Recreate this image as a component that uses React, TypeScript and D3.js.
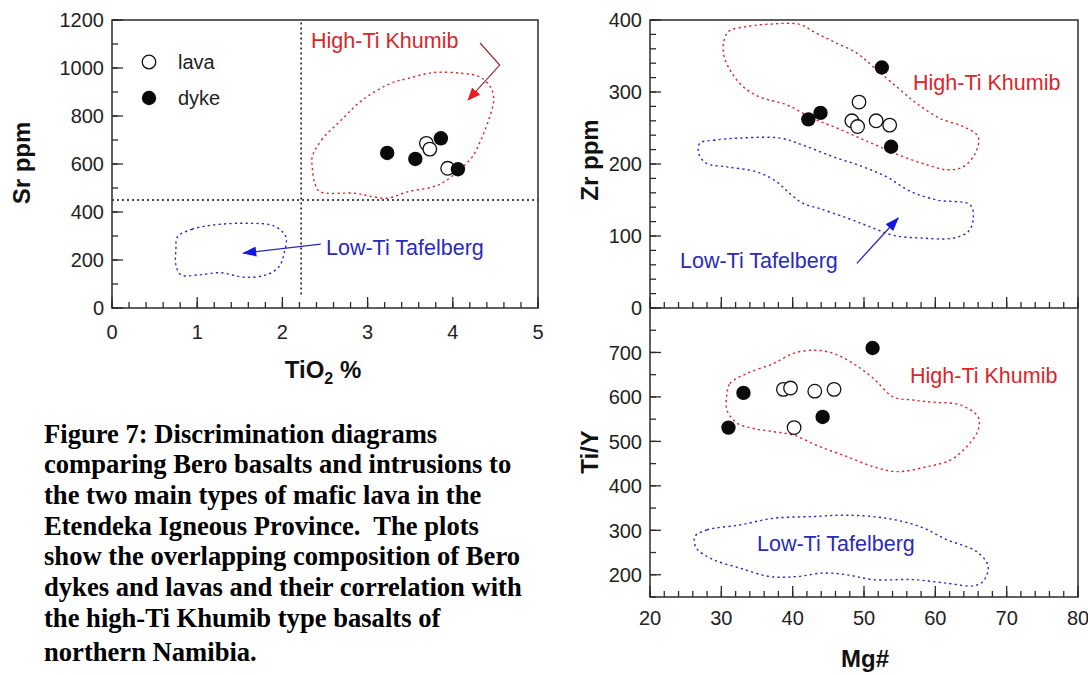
import * as d3 from "d3";

// tick labels
const tiO2Ticks = [0, 1, 2, 3, 4, 5];
const srTicks = [0, 200, 400, 600, 800, 1000, 1200];
const mgTicks = [20, 30, 40, 50, 60, 70, 80];
const zrTicks = [0, 100, 200, 300, 400];
const tiyTicks = [200, 300, 400, 500, 600, 700];

type Pt = [number, number];

// Sr ppm vs TiO2 %
const srLava: Pt[] = [[3.69, 686], [3.73, 662], [3.94, 582]];
const srDyke: Pt[] = [[3.23, 646], [3.56, 621], [3.86, 707], [4.06, 578]];
const srHighTi: Pt[] = [
  [2.35, 630], [2.46, 700], [2.69, 783], [2.94, 867], [3.27, 936], [3.48, 957],
  [3.77, 981], [4.1, 978], [4.31, 964], [4.44, 922], [4.48, 867], [4.42, 783],
  [4.33, 700], [4.23, 630], [4.1, 582], [3.9, 526], [3.77, 505], [3.48, 485],
  [3.23, 457], [3.06, 464], [2.85, 478], [2.44, 485], [2.38, 520], [2.35, 589],
];
const srLowTi: Pt[] = [
  [0.77, 297], [0.94, 328], [1.19, 346], [1.6, 353], [1.9, 342], [2.04, 297],
  [2.02, 228], [1.96, 172], [1.81, 138], [1.56, 128], [1.27, 147], [1.02, 138],
  [0.81, 138], [0.75, 179], [0.75, 242],
];
const srHighArrow: Pt[] = [[4.32, 1104], [4.55, 1012], [4.18, 867]];
const srLowArrow: Pt[] = [[2.45, 266], [1.54, 229]];
const srSplitTi = 2.22;
const srSplitSr = 450;

// Zr ppm vs Mg#
const zrLava: Pt[] = [[49.3, 286], [48.3, 260], [49.1, 252], [51.7, 260], [53.6, 254]];
const zrDyke: Pt[] = [[52.5, 334], [42.2, 262], [43.9, 271], [53.8, 224]];
const zrHighTi: Pt[] = [
  [30.3, 368], [31.0, 384], [33.6, 391], [36.4, 394], [41.0, 394], [42.9, 384],
  [45.7, 370], [49.0, 354], [51.3, 335], [54.6, 307], [57.4, 284], [60.7, 263],
  [63.9, 252], [66.0, 238], [65.6, 215], [63.9, 196], [61.6, 192], [58.8, 199],
  [55.5, 210], [52.2, 224], [49.4, 236], [46.2, 250], [42.9, 263], [39.2, 282],
  [35.4, 293], [33.1, 307], [31.5, 326], [30.4, 349],
];
const zrLowTi: Pt[] = [
  [27.0, 229], [28.9, 233], [32.6, 236], [38.2, 236], [41.5, 226], [45.7, 210],
  [49.9, 196], [53.2, 182], [56.5, 162], [60.2, 150], [64.9, 143], [65.3, 122],
  [64.6, 106], [62.5, 97], [58.3, 97], [54.1, 101], [50.8, 113], [47.6, 125],
  [43.8, 138], [41.5, 145], [39.6, 159], [37.8, 175], [35.0, 189], [30.8, 196],
  [27.9, 201], [26.8, 215],
];
const zrLowArrow: Pt[] = [[49.0, 62], [54.8, 125]];

// Ti/Y vs Mg#
const tiyLava: Pt[] = [[38.7, 617], [39.7, 620], [43.1, 613], [45.8, 617], [40.2, 531]];
const tiyDyke: Pt[] = [[51.2, 710], [33.1, 609], [31.0, 531], [44.2, 555]];
const tiyHighTi: Pt[] = [
  [30.8, 608], [31.2, 630], [33.6, 653], [37.3, 675], [40.1, 698], [42.9, 705],
  [45.7, 698], [48.5, 675], [51.3, 642], [54.1, 600], [56.9, 593], [59.7, 588],
  [63.5, 582], [66.0, 555], [66.0, 526], [64.4, 488], [62.1, 458], [58.8, 443],
  [54.6, 432], [51.3, 443], [47.6, 466], [43.8, 488], [40.1, 514], [37.3, 522],
  [34.5, 529], [32.2, 541], [30.8, 570],
];
const tiyLowTi: Pt[] = [
  [26.3, 286], [28.0, 301], [32.6, 312], [37.3, 327], [42.9, 331], [47.6, 334],
  [53.2, 327], [57.9, 308], [61.6, 279], [65.8, 252], [67.4, 219], [66.7, 185],
  [65.3, 175], [61.6, 181], [56.9, 189], [51.3, 189], [47.6, 200], [44.3, 204],
  [40.6, 196], [36.8, 196], [32.6, 215], [28.9, 234], [26.5, 260],
];

const caption = [
  "Figure 7: Discrimination diagrams",
  "comparing Bero basalts and intrusions to",
  "the two main types of mafic lava in the",
  "Etendeka Igneous Province.  The plots",
  "show the overlapping composition of Bero",
  "dykes and lavas and their correlation with",
  "the high-Ti Khumib type basalts of",
  "northern Namibia.",
];

const RED = "#d8262a";
const BLUE = "#2a2ab8";
const AXIS = "#2b2b2b";
const SANS = "'Liberation Sans', Arial, sans-serif";

type Scale = d3.ScaleLinear<number, number>;

function minors(lo: number, hi: number, step: number) {
  return d3.range(lo, hi + step / 2, step);
}

function Outline({ pts, x, y, color }: { pts: Pt[]; x: Scale; y: Scale; color: string }) {
  const line = d3
    .line<Pt>()
    .x((d) => x(d[0]))
    .y((d) => y(d[1]))
    .curve(d3.curveCatmullRomClosed.alpha(0.5));
  return <path d={line(pts) ?? ""} fill="none" stroke={color} strokeWidth={1.4} strokeDasharray="2.2,3.2" />;
}

function Arrow({ pts, x, y, color, marker }: { pts: Pt[]; x: Scale; y: Scale; color: string; marker: string }) {
  const line = d3.line<Pt>().x((d) => x(d[0])).y((d) => y(d[1]));
  return <path d={line(pts) ?? ""} fill="none" stroke={color} strokeWidth={1.3} markerEnd={`url(#${marker})`} />;
}

function Points({ lava, dyke, x, y }: { lava: Pt[]; dyke: Pt[]; x: Scale; y: Scale }) {
  return (
    <g>
      {lava.map((d, i) => (
        <circle key={"l" + i} cx={x(d[0])} cy={y(d[1])} r={6.8} fill="#fff" stroke="#111" strokeWidth={1.3} />
      ))}
      {dyke.map((d, i) => (
        <circle key={"d" + i} cx={x(d[0])} cy={y(d[1])} r={7.2} fill="#0a0a0a" />
      ))}
    </g>
  );
}

// axis ticks drawn inward; bottom ticks point up, left ticks point right
function BottomTicks({ x, y0, major, minor }: { x: Scale; y0: number; major: number[]; minor: number[] }) {
  return (
    <g stroke={AXIS} strokeWidth={1.3}>
      {minor.map((v, i) => (
        <line key={"m" + i} x1={x(v)} x2={x(v)} y1={y0} y2={y0 - 6} />
      ))}
      {major.map((v, i) => (
        <line key={"M" + i} x1={x(v)} x2={x(v)} y1={y0} y2={y0 - 11} />
      ))}
    </g>
  );
}

function LeftTicks({ y, x0, major, minor }: { y: Scale; x0: number; major: number[]; minor: number[] }) {
  return (
    <g stroke={AXIS} strokeWidth={1.3}>
      {minor.map((v, i) => (
        <line key={"m" + i} x1={x0} x2={x0 + 6} y1={y(v)} y2={y(v)} />
      ))}
      {major.map((v, i) => (
        <line key={"M" + i} x1={x0} x2={x0 + 11} y1={y(v)} y2={y(v)} />
      ))}
    </g>
  );
}

function YLabels({ y, x0, values }: { y: Scale; x0: number; values: number[] }) {
  return (
    <g fontFamily={SANS} fontSize={20} fill="#222" textAnchor="end">
      {values.map((v) => (
        <text key={v} x={x0 - 8} y={y(v)} dy="0.36em">
          {v}
        </text>
      ))}
    </g>
  );
}

function XLabels({ x, yBase, values }: { x: Scale; yBase: number; values: number[] }) {
  return (
    <g fontFamily={SANS} fontSize={20} fill="#222" textAnchor="middle">
      {values.map((v) => (
        <text key={v} x={x(v)} y={yBase}>
          {v}
        </text>
      ))}
    </g>
  );
}

export default function App() {
  // left panel: Sr vs TiO2
  const xL = d3.scaleLinear().domain([0, 5]).range([112, 538]);
  const yL = d3.scaleLinear().domain([0, 1200]).range([308, 20]);
  // right panels share Mg#
  const xR = d3.scaleLinear().domain([20, 80]).range([650, 1078]);
  const yZr = d3.scaleLinear().domain([0, 400]).range([308, 20]);
  const yTi = d3.scaleLinear().domain([150, 800]).range([597, 308]);

  return (
    <svg width={1088} height={675} style={{ position: "absolute", left: 0, top: 0, background: "#fff" }}>
      <defs>
        <marker id="arrRed" viewBox="0 0 12 10" refX={11} refY={5} markerWidth={13} markerHeight={11} markerUnits="userSpaceOnUse" orient="auto">
          <path d="M0,0 L12,5 L0,10 z" fill="#f01818" />
        </marker>
        <marker id="arrBlue" viewBox="0 0 14 10" refX={13} refY={5} markerWidth={15} markerHeight={10} markerUnits="userSpaceOnUse" orient="auto">
          <path d="M0,0 L14,5 L0,10 z" fill="#1515e0" />
        </marker>
      </defs>

      {/* ---------- left: Sr ppm vs TiO2 % ---------- */}
      <Outline pts={srHighTi} x={xL} y={yL} color={RED} />
      <Outline pts={srLowTi} x={xL} y={yL} color={BLUE} />
      <line x1={xL(srSplitTi)} x2={xL(srSplitTi)} y1={yL(1190)} y2={yL(50)} stroke="#111" strokeWidth={1.5} strokeDasharray="2,3" />
      <line x1={xL(0)} x2={xL(5)} y1={yL(srSplitSr)} y2={yL(srSplitSr)} stroke="#111" strokeWidth={1.5} strokeDasharray="2,3" />
      <Arrow pts={srHighArrow} x={xL} y={yL} color="#a03040" marker="arrRed" />
      <Arrow pts={srLowArrow} x={xL} y={yL} color={BLUE} marker="arrBlue" />
      <Points lava={srLava} dyke={srDyke} x={xL} y={yL} />
      <rect x={112} y={20} width={426} height={288} fill="none" stroke={AXIS} strokeWidth={1.5} />
      <BottomTicks x={xL} y0={308} major={tiO2Ticks} minor={minors(0, 5, 0.2)} />
      <LeftTicks y={yL} x0={112} major={srTicks} minor={minors(0, 1200, 100)} />
      <YLabels y={yL} x0={112} values={srTicks} />
      <XLabels x={xL} yBase={339} values={tiO2Ticks} />
      <text x={311} y={48} fontFamily={SANS} fontSize={21.5} fill={RED}>High-Ti Khumib</text>
      <text x={326} y={255} fontFamily={SANS} fontSize={21.5} fill={BLUE}>Low-Ti Tafelberg</text>
      <circle cx={149} cy={62} r={6.8} fill="#fff" stroke="#111" strokeWidth={1.3} />
      <text x={178} y={69} fontFamily={SANS} fontSize={20} fill="#222">lava</text>
      <circle cx={149} cy={98} r={7.2} fill="#0a0a0a" />
      <text x={178} y={105} fontFamily={SANS} fontSize={20} fill="#222">dyke</text>
      <text transform="translate(30,163) rotate(-90)" textAnchor="middle" fontFamily={SANS} fontSize={24} fontWeight="bold" fill="#111">
        Sr ppm
      </text>
      <text x={323} y={378} textAnchor="middle" fontFamily={SANS} fontSize={24} fontWeight="bold" fill="#111">
        TiO<tspan fontSize={16} dy={6}>2</tspan>
        <tspan dy={-6}> %</tspan>
      </text>

      {/* ---------- top right: Zr ppm vs Mg# ---------- */}
      <Outline pts={zrHighTi} x={xR} y={yZr} color={RED} />
      <Outline pts={zrLowTi} x={xR} y={yZr} color={BLUE} />
      <Arrow pts={zrLowArrow} x={xR} y={yZr} color={BLUE} marker="arrBlue" />
      <Points lava={zrLava} dyke={zrDyke} x={xR} y={yZr} />
      <text x={913} y={90} fontFamily={SANS} fontSize={21.5} fill={RED}>High-Ti Khumib</text>
      <text x={680} y={268} fontFamily={SANS} fontSize={21.5} fill={BLUE}>Low-Ti Tafelberg</text>
      <BottomTicks x={xR} y0={308} major={mgTicks} minor={minors(20, 80, 2)} />
      <LeftTicks y={yZr} x0={650} major={zrTicks} minor={minors(0, 400, 20)} />
      <YLabels y={yZr} x0={650} values={zrTicks} />
      <text transform="translate(598,160) rotate(-90)" textAnchor="middle" fontFamily={SANS} fontSize={24} fontWeight="bold" fill="#111">
        Zr ppm
      </text>

      {/* ---------- bottom right: Ti/Y vs Mg# ---------- */}
      <Outline pts={tiyHighTi} x={xR} y={yTi} color={RED} />
      <Outline pts={tiyLowTi} x={xR} y={yTi} color={BLUE} />
      <Points lava={tiyLava} dyke={tiyDyke} x={xR} y={yTi} />
      <text x={910} y={383} fontFamily={SANS} fontSize={21.5} fill={RED}>High-Ti Khumib</text>
      <text x={757} y={551} fontFamily={SANS} fontSize={21.5} fill={BLUE}>Low-Ti Tafelberg</text>
      <rect x={650} y={20} width={428} height={577} fill="none" stroke={AXIS} strokeWidth={1.5} />
      <line x1={650} x2={1078} y1={308} y2={308} stroke={AXIS} strokeWidth={1.5} />
      <BottomTicks x={xR} y0={597} major={mgTicks} minor={minors(20, 80, 2)} />
      <LeftTicks y={yTi} x0={650} major={tiyTicks} minor={minors(150, 800, 50)} />
      <YLabels y={yTi} x0={650} values={tiyTicks} />
      <XLabels x={xR} yBase={625} values={mgTicks} />
      <text transform="translate(598,452) rotate(-90)" textAnchor="middle" fontFamily={SANS} fontSize={24} fontWeight="bold" fill="#111">
        Ti/Y
      </text>
      <text x={865} y={667} textAnchor="middle" fontFamily={SANS} fontSize={24} fontWeight="bold" fill="#111">
        Mg#
      </text>

      {/* ---------- caption ---------- */}
      <g fontFamily="'Liberation Serif', 'Times New Roman', serif" fontSize={26.6} fontWeight="bold" fill="#000">
        {caption.map((t, i) => (
          <text key={i} x={44} y={i < 7 ? 442.7 + i * 30.67 : 660.7} xmlSpace="preserve">
            {t}
          </text>
        ))}
      </g>
    </svg>
  );
}
